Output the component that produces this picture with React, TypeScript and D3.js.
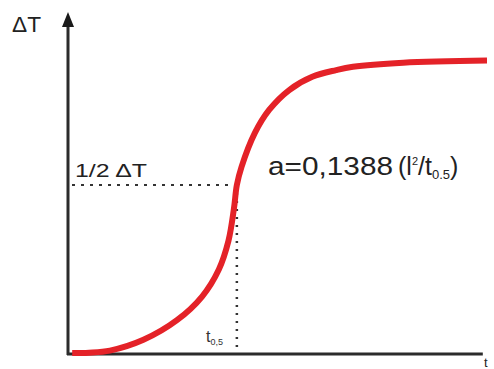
import React from "react";
import * as d3 from "d3";

// time (arbitrary units) and the normalised temperature rise
const timeValues = [1, 5, 10, 18, 26, 32, 36, 38.3, 39.6, 40.3, 41.4, 44.6, 48, 52.8, 58.3, 64, 68, 80, 100];
const riseValues = [0.003, 0.004, 0.01, 0.042, 0.1, 0.17, 0.25, 0.335, 0.43, 0.5, 0.553, 0.654, 0.722, 0.781, 0.82, 0.84, 0.85, 0.862, 0.868];
const halfRise = 0.5;
const halfTime = 40.3;
const axisEnd = 99;

const width = 494;
const height = 369;
const font = "'Liberation Sans', Arial, sans-serif";

export default function App() {
  // x: time, y: ΔT as a share of the maximum
  const x = d3.scaleLinear().domain([0, 100]).range([68, 487]);
  const y = d3.scaleLinear().domain([0, 1]).range([354, 16]);

  const points = timeValues.map((t, i) => [t, riseValues[i]] as [number, number]);
  const line = d3
    .line<[number, number]>()
    .x((d) => x(d[0]))
    .y((d) => y(d[1]))
    .curve(d3.curveCatmullRom.alpha(0.5));

  const x0 = x(0);
  const y0 = y(0);

  return (
    <svg
      width={width}
      height={height}
      style={{ position: "fixed", left: 0, top: 0, background: "#fff" }}
      fontFamily={font}
    >
      {/* guide lines to the half rise */}
      <line
        x1={x0 + 4}
        x2={x(halfTime)}
        y1={y(halfRise)}
        y2={y(halfRise)}
        stroke="#333"
        strokeWidth={2}
        strokeDasharray="3 6"
      />
      <line
        x1={x(halfTime)}
        x2={x(halfTime)}
        y1={y(halfRise)}
        y2={y0}
        stroke="#333"
        strokeWidth={2.5}
        strokeDasharray="2 6"
      />

      {/* axes */}
      <line x1={x0} x2={x0} y1={y0 + 1} y2={24} stroke="#2b2b2b" strokeWidth={3} />
      <path d={`M${x0},12 L${x0 - 6},27 L${x0 + 6},27 Z`} fill="#1a1a1a" />
      <line x1={x0 - 1} x2={x(axisEnd)} y1={y0} y2={y0} stroke="#2b2b2b" strokeWidth={3} />

      {/* the curve */}
      <path
        d={line(points) ?? ""}
        fill="none"
        stroke="#e42228"
        strokeWidth={6}
        strokeLinecap="butt"
      />

      {/* labels */}
      <text x={12} y={32} fontSize={22} fill="#222" textLength={29} lengthAdjust="spacingAndGlyphs">
        ΔT
      </text>
      <text x={484} y={367} fontSize={13} fill="#222">
        t
      </text>
      <text x={75} y={177} fontSize={18} fill="#222" textLength={72} lengthAdjust="spacingAndGlyphs">
        1/2 ΔT
      </text>
      <text x={206} y={342} fontSize={16} fill="#333">
        t<tspan fontSize={9} dy={3}>0,5</tspan>
      </text>
      <text x={268} y={175} fontSize={25} fill="#222">
        <tspan textLength={125} lengthAdjust="spacingAndGlyphs">a=0,1388</tspan>
        <tspan dx={5}>(l</tspan>
        <tspan fontSize={11} dy={-10}>2</tspan>
        <tspan dy={10}>/t</tspan>
        <tspan fontSize={13} dy={4}>0.5</tspan>
        <tspan dy={-4}>)</tspan>
      </text>
    </svg>
  );
}
